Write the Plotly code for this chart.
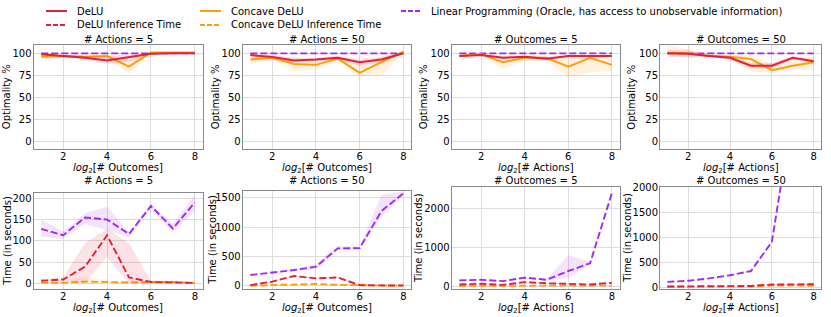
import plotly.graph_objects as go

W, H = 831, 317
x_vals = [1, 2, 3, 4, 5, 6, 7, 8]
x_ticks = [2, 4, 6, 8]

# ---------------- Optimality % (top row) ----------------
# Panel 1: # Actions = 5
opt_a5_delu = [99, 97, 95, 92, 96, 99.5, 100, 100]
opt_a5_delu_lo = [98, 96, 93, 88, 90, 99, 99.5, 99.5]
opt_a5_delu_hi = [100, 98, 97, 97, 99, 100, 100.5, 100.5]
opt_a5_cdelu = [96, 97, 96, 97, 85, 101, 101, 101]
opt_a5_cdelu_lo = [93, 95, 94, 94, 77, 100, 100, 100]
opt_a5_cdelu_hi = [99, 99, 98, 99, 93, 102, 102, 102]
opt_a5_lp = [100, 100, 100, 100, 100, 100, 100, 100]

# Panel 2: # Actions = 50
opt_a50_delu = [98, 96, 92, 93, 95, 90, 93, 100]
opt_a50_delu_lo = [96, 94, 90, 91, 93, 86, 90, 99]
opt_a50_delu_hi = [100, 98, 95, 95, 97, 94, 96, 101]
opt_a50_cdelu = [93, 95, 88, 87, 94, 78, 90, 102]
opt_a50_cdelu_lo = [88, 93, 80, 82, 91, 74, 75, 100]
opt_a50_cdelu_hi = [97, 97, 95, 92, 97, 88, 96, 103]
opt_a50_lp = [100, 100, 100, 100, 100, 100, 100, 100]

# Panel 3: # Outcomes = 5
opt_o5_delu = [97, 98, 95, 96, 94, 97, 97, 97]
opt_o5_delu_lo = [96, 97, 94, 95, 93, 96, 96, 96]
opt_o5_delu_hi = [98, 99, 96, 97, 95, 98, 98, 98]
opt_o5_cdelu = [97, 99, 90, 95, 95, 85, 95, 87]
opt_o5_cdelu_lo = [95, 98, 82, 92, 91, 73, 79, 80]
opt_o5_cdelu_hi = [99, 100, 97, 98, 98, 95, 98, 94]
opt_o5_lp = [100, 100, 100, 100, 100, 100, 100, 100]

# Panel 4: # Outcomes = 50
opt_o50_delu = [100, 99.5, 97, 95, 86, 86, 95, 91]
opt_o50_delu_lo = [96, 95, 96, 93, 83, 83, 93, 89]
opt_o50_delu_hi = [104, 104, 98, 97, 89, 89, 97, 93]
opt_o50_cdelu = [100.5, 100, 97, 96, 93.5, 81, 86, 90]
opt_o50_cdelu_lo = [98, 98, 96, 93, 80, 78, 82, 81]
opt_o50_cdelu_hi = [110, 104, 99, 98, 98, 88, 94, 97]
opt_o50_lp = [100, 100, 100, 100, 100, 100, 100, 100]

# ---------------- Time in seconds (bottom row) ----------------
# Panel 5: # Actions = 5
t_a5_lp = [128, 113, 155, 150, 116, 182, 129, 190]
t_a5_lp_lo = [110, 105, 140, 125, 108, 175, 120, 170]
t_a5_lp_hi = [150, 122, 165, 180, 120, 186, 140, 208]
t_a5_delu = [6, 9, 39, 113, 14, 3, 2, 1]
t_a5_delu_lo = [2, 4, 0, 62, 0, 1, 1, 0]
t_a5_delu_hi = [10, 14, 95, 128, 95, 5, 3, 2]
t_a5_cdelu = [1, 1, 4, 3, 2, 3, 3, 1]
t_a5_cdelu_lo = [0, 0, 0, 1, 1, 1, 1, 0]
t_a5_cdelu_hi = [2, 3, 15, 6, 4, 6, 7, 2]

# Panel 6: # Actions = 50
t_a50_lp = [182, 225, 267, 324, 636, 640, 1273, 1574]
t_a50_lp_lo = [175, 215, 255, 280, 610, 620, 1180, 1540]
t_a50_lp_hi = [190, 235, 280, 370, 680, 660, 1550, 1610]
t_a50_delu = [10, 70, 165, 125, 140, 10, 5, 3]
t_a50_delu_lo = [5, 55, 150, 115, 125, 5, 3, 2]
t_a50_delu_hi = [15, 85, 180, 135, 155, 15, 8, 5]
t_a50_cdelu = [0, 10, 20, 30, 15, 5, 3, 2]
t_a50_cdelu_lo = [0, 5, 12, 20, 8, 2, 1, 1]
t_a50_cdelu_hi = [3, 15, 28, 40, 22, 8, 5, 3]

# Panel 7: # Outcomes = 5
t_o5_lp = [146, 160, 125, 215, 160, 386, 584, 2386]
t_o5_lp_lo = [135, 150, 115, 195, 150, 200, 570, 2360]
t_o5_lp_hi = [160, 170, 135, 235, 170, 800, 620, 2410]
t_o5_delu = [40, 60, 30, 100, 70, 50, 40, 80]
t_o5_delu_lo = [30, 50, 20, 85, 60, 40, 30, 65]
t_o5_delu_hi = [50, 70, 40, 115, 80, 60, 50, 95]
t_o5_cdelu = [5, 10, 5, 10, 10, 10, 8, 10]
t_o5_cdelu_lo = [2, 5, 2, 5, 5, 5, 4, 5]
t_o5_cdelu_hi = [8, 15, 8, 15, 15, 15, 12, 15]

# Panel 8: # Outcomes = 50
t_o50_lp = [102, 125, 172, 236, 319, 901, 3520, 6500]
t_o50_lp_lo = [95, 118, 165, 228, 300, 880, 3450, 6400]
t_o50_lp_hi = [109, 132, 179, 244, 340, 922, 3590, 6600]
t_o50_delu = [10, 12, 15, 15, 20, 50, 55, 55]
t_o50_delu_lo = [8, 10, 12, 12, 16, 42, 45, 40]
t_o50_delu_hi = [12, 14, 18, 18, 24, 58, 65, 70]
t_o50_cdelu = [5, 6, 8, 8, 10, 30, 30, 25]
t_o50_cdelu_lo = [3, 4, 6, 6, 8, 22, 20, 5]
t_o50_cdelu_hi = [7, 8, 10, 10, 12, 38, 40, 100]

panel_titles = ["# Actions = 5", "# Actions = 50", "# Outcomes = 5", "# Outcomes = 50",
                "# Actions = 5", "# Actions = 50", "# Outcomes = 5", "# Outcomes = 50"]
x_titles = ["<i>log</i><sub>2</sub>[# Outcomes]", "<i>log</i><sub>2</sub>[# Outcomes]",
            "<i>log</i><sub>2</sub>[# Actions]", "<i>log</i><sub>2</sub>[# Actions]"] * 2
y_titles = ["Optimality %"] * 4 + ["Time (in seconds)"] * 4

opt_ticks = [0, 25, 50, 75, 100]
time_ticks = [[0, 50, 100, 150, 200], [0, 500, 1000, 1500], [0, 1000, 2000],
              [0, 500, 1000, 1500, 2000]]

RED = "#E3203A"
ORANGE = "#FF9D0A"
PURPLE = "#A12AF0"
FILLS = {RED: "rgba(227,32,58,0.13)", ORANGE: "rgba(255,157,10,0.13)",
         PURPLE: "rgba(161,42,240,0.13)"}
FONT = "DejaVu Sans"
FS = 10
DASH = "7px,3px"

names = {"delu": "DeLU", "cdelu": "Concave DeLU",
         "lp": "Linear Programming (Oracle, has access to unobservable information)",
         "delu_t": "DeLU Inference Time", "cdelu_t": "Concave DeLU Inference Time"}

# panel layout in pixels
xdom_px = [(33.5, 202.5), (242.7, 411.0), (451.7, 619.5), (660.0, 821.0)]
ydom_px = [(45, 149.3)] * 4 + [(193, 289), (191, 289), (187, 289), (187, 289)]
y_ranges = [[-8.3, 109.4]] * 4 + [[-13.4, 212.5], [-56, 1614], [-77, 2548], [-40, 2000]]
ytitle_off = [27.5, 27.5, 28.5, 28.5, 26.8, 31, 33.7, 33.3]

fig = go.Figure()


def add_series(i, key, mean, lo, hi, color, dashed):
    xa = "x" if i == 1 else f"x{i}"
    ya = "y" if i == 1 else f"y{i}"
    fig.add_trace(go.Scatter(
        x=x_vals + x_vals[::-1], y=hi + lo[::-1], fill="toself",
        fillcolor=FILLS[color], line=dict(width=0), mode="lines",
        hoverinfo="skip", showlegend=False, xaxis=xa, yaxis=ya))
    fig.add_trace(go.Scatter(
        x=x_vals, y=mean, mode="lines", name=names[key],
        line=dict(color=color, width=2 if not dashed else 1.9,
                  dash=DASH if dashed else "solid"),
        showlegend=False, xaxis=xa, yaxis=ya))


top_data = [
    (opt_a5_delu, opt_a5_delu_lo, opt_a5_delu_hi, opt_a5_cdelu, opt_a5_cdelu_lo, opt_a5_cdelu_hi, opt_a5_lp),
    (opt_a50_delu, opt_a50_delu_lo, opt_a50_delu_hi, opt_a50_cdelu, opt_a50_cdelu_lo, opt_a50_cdelu_hi, opt_a50_lp),
    (opt_o5_delu, opt_o5_delu_lo, opt_o5_delu_hi, opt_o5_cdelu, opt_o5_cdelu_lo, opt_o5_cdelu_hi, opt_o5_lp),
    (opt_o50_delu, opt_o50_delu_lo, opt_o50_delu_hi, opt_o50_cdelu, opt_o50_cdelu_lo, opt_o50_cdelu_hi, opt_o50_lp),
]
for k, (d, dl, dh, c, cl, ch, lp) in enumerate(top_data):
    i = k + 1
    add_series(i, "lp", lp, lp, lp, PURPLE, True)
    add_series(i, "cdelu", c, cl, ch, ORANGE, False)
    add_series(i, "delu", d, dl, dh, RED, False)

bottom_data = [
    (t_a5_lp, t_a5_lp_lo, t_a5_lp_hi, t_a5_delu, t_a5_delu_lo, t_a5_delu_hi, t_a5_cdelu, t_a5_cdelu_lo, t_a5_cdelu_hi),
    (t_a50_lp, t_a50_lp_lo, t_a50_lp_hi, t_a50_delu, t_a50_delu_lo, t_a50_delu_hi, t_a50_cdelu, t_a50_cdelu_lo, t_a50_cdelu_hi),
    (t_o5_lp, t_o5_lp_lo, t_o5_lp_hi, t_o5_delu, t_o5_delu_lo, t_o5_delu_hi, t_o5_cdelu, t_o5_cdelu_lo, t_o5_cdelu_hi),
    (t_o50_lp, t_o50_lp_lo, t_o50_lp_hi, t_o50_delu, t_o50_delu_lo, t_o50_delu_hi, t_o50_cdelu, t_o50_cdelu_lo, t_o50_cdelu_hi),
]
for k, (p, pl, ph, d, dl, dh, c, cl, ch) in enumerate(bottom_data):
    i = k + 5
    add_series(i, "lp", p, pl, ph, PURPLE, True)
    add_series(i, "cdelu_t", c, cl, ch, ORANGE, True)
    add_series(i, "delu_t", d, dl, dh, RED, True)

layout = dict(width=W, height=H, margin=dict(l=0, r=0, t=0, b=0, autoexpand=False),
              paper_bgcolor="white", plot_bgcolor="white",
              font=dict(family=FONT, size=FS, color="black"))
annotations = []
shapes = []
for i in range(1, 9):
    col = (i - 1) % 4
    x0, x1 = xdom_px[col]
    y0, y1 = ydom_px[i - 1]
    sfx = "" if i == 1 else str(i)
    yticks = opt_ticks if i <= 4 else time_ticks[i - 5]
    layout["xaxis" + sfx] = dict(
        domain=[x0 / W, x1 / W], anchor="y" + sfx, range=[0.65, 8.35],
        tickvals=x_ticks, showgrid=True, gridcolor="#DDDDDD", gridwidth=1,
        showline=True, linecolor="#8A8A8A", linewidth=1, mirror=True,
        ticks="", ticklabelstandoff=-2, zeroline=False, tickfont=dict(size=FS),
        automargin=False)
    layout["yaxis" + sfx] = dict(
        domain=[1 - y1 / H, 1 - y0 / H], anchor="x" + sfx, range=y_ranges[i - 1],
        tickvals=yticks, showgrid=True, gridcolor="#DDDDDD", gridwidth=1,
        showline=True, linecolor="#8A8A8A", linewidth=1, mirror=True,
        ticks="", ticklabelstandoff=-1, zeroline=False, tickfont=dict(size=FS),
        automargin=False)
    xc = (x0 + x1) / 2
    # panel title
    ty = 39 if i <= 4 else 180.7
    annotations.append(dict(text=panel_titles[i - 1], x=xc / W, y=1 - ty / H,
                            xref="paper", yref="paper", showarrow=False,
                            xanchor="center", yanchor="middle", font=dict(size=FS)))
    # x title
    xy = 168 if i <= 4 else 308
    annotations.append(dict(text=x_titles[i - 1], x=xc / W, y=1 - xy / H,
                            xref="paper", yref="paper", showarrow=False,
                            xanchor="center", yanchor="middle", font=dict(size=FS)))
    # y title
    yc = (y0 + y1) / 2
    annotations.append(dict(text=y_titles[i - 1], x=(x0 - ytitle_off[i - 1]) / W,
                            y=1 - yc / H, xref="paper", yref="paper", showarrow=False,
                            textangle=-90, xanchor="center", yanchor="middle",
                            font=dict(size=FS)))

# legend drawn as line samples + text (3 columns x 2 rows)
legend_items = [("delu", RED, False, 46, 75, 11), ("cdelu", ORANGE, False, 200, 229, 11),
                ("lp", PURPLE, True, 401, 429, 11), ("delu_t", RED, True, 46, 75, 25),
                ("cdelu_t", ORANGE, True, 200, 229, 25)]
for key, color, dashed, lx, tx, ly in legend_items:
    shapes.append(dict(type="line", xref="paper", yref="paper",
                       x0=lx / W, x1=(lx + 21) / W, y0=1 - ly / H, y1=1 - ly / H,
                       line=dict(color=color, width=2, dash="5px,2px" if dashed else "solid")))
    annotations.append(dict(text=names[key], x=tx / W, y=1 - ly / H, xref="paper",
                            yref="paper", showarrow=False, xanchor="left",
                            yanchor="middle", font=dict(size=FS)))

layout["annotations"] = annotations
layout["shapes"] = shapes
fig.update_layout(**layout)
fig.write_html("out.html", config={"displayModeBar": False},
               post_script="document.body.style.margin='0px';"
                           "document.body.style.overflow='hidden';")
